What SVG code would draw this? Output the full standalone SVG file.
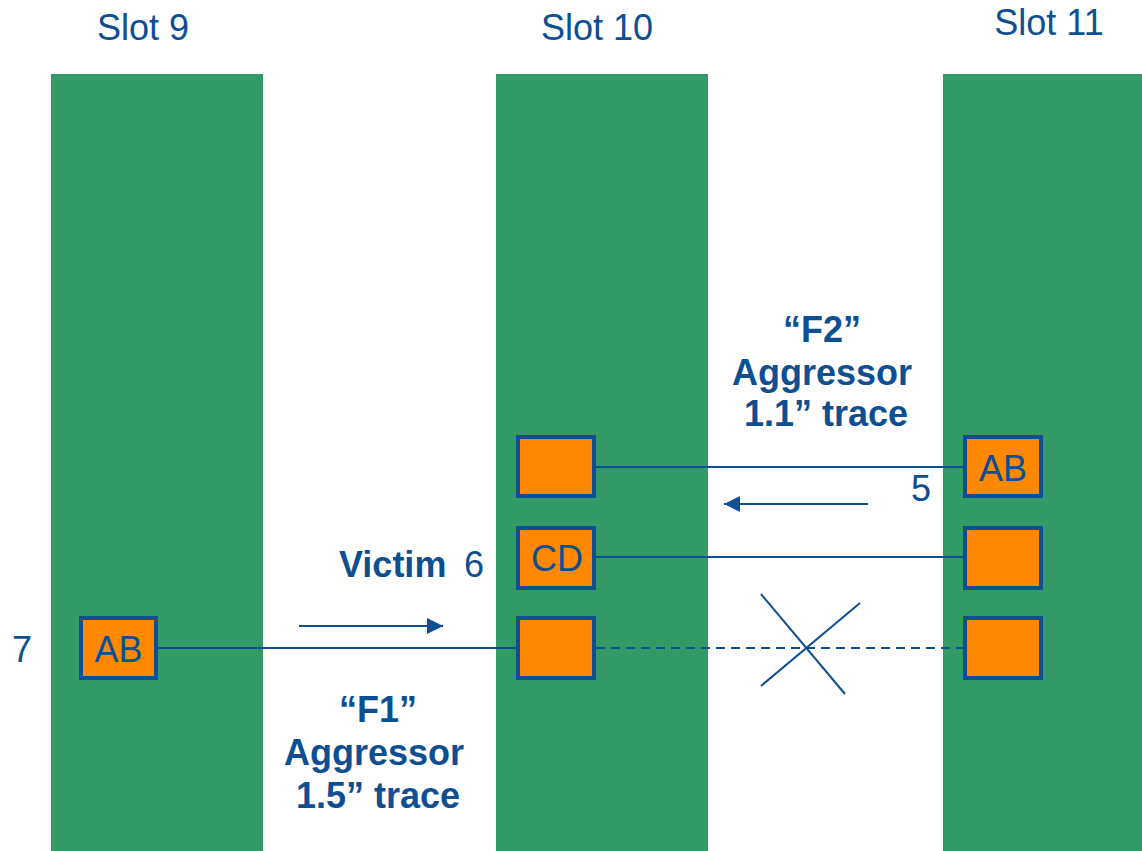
<svg xmlns="http://www.w3.org/2000/svg" width="1142" height="851" viewBox="0 0 1142 851">
<defs>
<style>
.slot{fill:#339966}
.box{fill:#FF8800;stroke:#0E4E92;stroke-width:4}
.t{font-family:"Liberation Sans",Arial,sans-serif;font-size:36px;fill:#0E4E92}
.b{font-weight:bold}
.m{text-anchor:middle}
.w{stroke:#0E4E92;stroke-width:2;fill:none}
</style>
<marker id="ah" viewBox="0 0 10 10" refX="10" refY="5" markerWidth="16" markerHeight="16" markerUnits="userSpaceOnUse" orient="auto">
<path d="M0,0 L10,5 L0,10 z" fill="#0E4E92"/>
</marker>
</defs>
<rect width="1142" height="851" fill="#ffffff"/>
<g id="slot9">
<rect class="slot" x="51" y="74" width="212" height="777"/>
<text class="t m" x="143" y="40">Slot 9</text>
</g>
<g id="slot10">
<rect class="slot" x="496" y="74" width="212" height="777"/>
<text class="t m" x="597" y="40">Slot 10</text>
</g>
<g id="slot11">
<rect class="slot" x="943" y="74" width="199" height="777"/>
<text class="t m" x="1049" y="35">Slot 11</text>
</g>
<g id="connectors">
<line class="w" x1="596" y1="467" x2="964" y2="467"/>
<line class="w" x1="596" y1="557" x2="964" y2="557"/>
<line class="w" x1="158" y1="648" x2="518" y2="648"/>
<line class="w" x1="596" y1="648" x2="964" y2="648" stroke-dasharray="9,6"/>
<line class="w" x1="299" y1="626" x2="443" y2="626" marker-end="url(#ah)"/>
<line class="w" x1="868" y1="504" x2="724" y2="504" marker-end="url(#ah)"/>
<line class="w" x1="761" y1="594" x2="845" y2="694"/>
<line class="w" x1="860" y1="603" x2="761" y2="686"/>
</g>
<g id="box-s10-top"><rect class="box" x="518" y="437" width="76" height="59"/></g>
<g id="box-s10-cd"><rect class="box" x="518" y="528" width="76" height="60"/><text class="t m" x="557" y="571">CD</text></g>
<g id="box-s10-bot"><rect class="box" x="518" y="618" width="76" height="60"/></g>
<g id="box-s11-ab"><rect class="box" x="965" y="437" width="76" height="59"/><text class="t m" x="1003" y="481">AB</text></g>
<g id="box-s11-mid"><rect class="box" x="965" y="528" width="76" height="60"/></g>
<g id="box-s11-bot"><rect class="box" x="965" y="618" width="76" height="60"/></g>
<g id="box-s9-ab"><rect class="box" x="81" y="618" width="75" height="60"/><text class="t m" x="118.500" y="662">AB</text></g>
<g id="labels">
<text class="t" x="12" y="662">7</text>
<text class="t" x="911" y="501">5</text>
<text class="t b" x="339" y="577">Victim</text>
<text class="t" x="464" y="577">6</text>
<text class="t b m" x="822" y="342">“F2”</text>
<text class="t b m" x="822" y="385">Aggressor</text>
<text class="t b m" x="826" y="426">1.1” trace</text>
<text class="t b m" x="378" y="722">“F1”</text>
<text class="t b m" x="374" y="765">Aggressor</text>
<text class="t b m" x="378" y="808">1.5” trace</text>
</g>
</svg>
